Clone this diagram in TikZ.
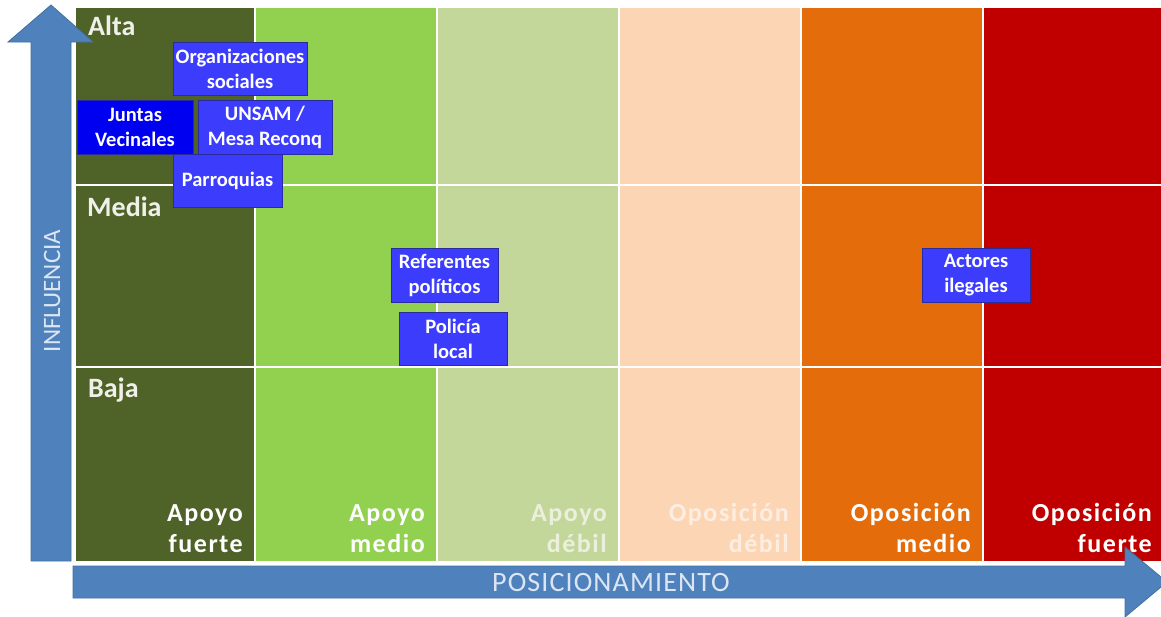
\documentclass[tikz,border=0pt]{standalone}
\usepackage{fontspec}
\setmainfont{Carlito}
\newfontfamily\spacedfont[LetterSpace=6]{Carlito}
\newfontfamily\axisfont[LetterSpace=4]{Carlito}
\definecolor{cA}{HTML}{4F6228}
\definecolor{cB}{HTML}{92D050}
\definecolor{cC}{HTML}{C4D79B}
\definecolor{cD}{HTML}{FCD5B4}
\definecolor{cE}{HTML}{E46C0A}
\definecolor{cF}{HTML}{C00000}
\definecolor{arrowblue}{HTML}{4F81BD}
\definecolor{arrowedge}{HTML}{41719C}
\definecolor{boxblue}{HTML}{3C3CFC}
\definecolor{boxdark}{HTML}{0000F0}
\definecolor{boxedge}{HTML}{2B2BA0}
\definecolor{rowtxt}{HTML}{F0F0EA}
\definecolor{palegreentxt}{HTML}{EAF0DC}
\definecolor{palepeachtxt}{HTML}{FEEEE2}
\definecolor{axistxt}{HTML}{DCE6F2}
\tikzset{
  sepline/.style={white, line width=2.5pt},
  bigarrow/.style={fill=arrowblue, draw=arrowedge, line width=0.8pt},
  actor/.style={fill=boxblue, draw=boxedge, line width=0.8pt, text=white,
    font=\bfseries\fontsize{20.5}{25}\selectfont, align=center, inner sep=0pt},
  rowlabel/.style={anchor=base west, text=rowtxt, inner sep=0pt,
    font=\bfseries\fontsize{28}{30}\selectfont},
  collabel/.style={anchor=south east, align=right, inner sep=0pt,
    font=\spacedfont\bfseries\fontsize{26}{31}\selectfont},
  axislabel/.style={text=axistxt, inner sep=0pt}
}
\begin{document}
\begin{tikzpicture}[x=1pt,y=-1pt]
\useasboundingbox (0,0) rectangle (1161,616);
\begin{scope}
\clip (0,0) rectangle (1161,616);
% columns
\fill[cA] (75,7) rectangle (255,561);
\fill[cB] (255,7) rectangle (437,561);
\fill[cC] (437,7) rectangle (619,561);
\fill[cD] (619,7) rectangle (801,561);
\fill[cE] (801,7) rectangle (983,561);
\fill[cF] (983,7) rectangle (1170,561);
% separators
\foreach \xx in {255,437,619,801,983} \draw[sepline] (\xx,7) -- (\xx,561);
\draw[sepline] (75,185) -- (1170,185);
\draw[sepline] (75,367) -- (1170,367);
\draw[white, line width=1pt] (75,561) -- (75,7) -- (1170,7);
% axis arrows
\draw[bigarrow] (31,561) -- (31,42) -- (8,42) -- (51,5) -- (93,42) -- (71,42) -- (71,561) -- cycle;
\draw[bigarrow] (73,566) -- (1125,566) -- (1125,547) -- (1167,582) -- (1125,617) -- (1125,598) -- (73,598) -- cycle;
\end{scope}
% axis labels
\node[axislabel, rotate=90, font=\fontsize{25}{30}\selectfont] (influencia) at (52,291) {INFLUENCIA};
\node[axislabel, font=\axisfont\fontsize{28}{30}\selectfont] (posicion) at (611,583) {POSICIONAMIENTO};
% row labels
\node[rowlabel] (alta) at (88,35) {Alta};
\node[rowlabel] (media) at (87,216) {Media};
\node[rowlabel] (baja) at (88,397) {Baja};
% column labels
\node[collabel, text=white] (c1) at (243,553) {Apoyo\\fuerte};
\node[collabel, text=white] (c2) at (425,553) {Apoyo\\medio};
\node[collabel, text=palegreentxt] (c3) at (607,553) {Apoyo\\débil};
\node[collabel, text=palepeachtxt] (c4) at (789,553) {Oposición\\débil};
\node[collabel, text=white] (c5) at (971,553) {Oposición\\medio};
\node[collabel, text=white] (c6) at (1152,553) {Oposición\\fuerte};
% actors
\node[actor, minimum width=134pt, minimum height=53pt] (org) at (240,68.5) {Organizaciones\\sociales};
\node[actor, fill=boxdark, minimum width=116pt, minimum height=54pt] (juntas) at (135,127) {Juntas\\Vecinales};
\node[actor, minimum width=134pt, minimum height=54pt] (unsam) at (265,127) {UNSAM /\\Mesa Reconq};
\node[actor, minimum width=109pt, minimum height=53pt] (parr) at (227.5,180.5) {Parroquias};
\node[actor, minimum width=107pt, minimum height=54pt] (ref) at (444.5,275) {Referentes\\políticos};
\node[actor, minimum width=108pt, minimum height=53pt] (pol) at (453,338.5) {Policía\\local};
\node[actor, minimum width=108pt, minimum height=54pt] (act) at (976,275) {Actores\\ilegales};
\end{tikzpicture}
\end{document}
